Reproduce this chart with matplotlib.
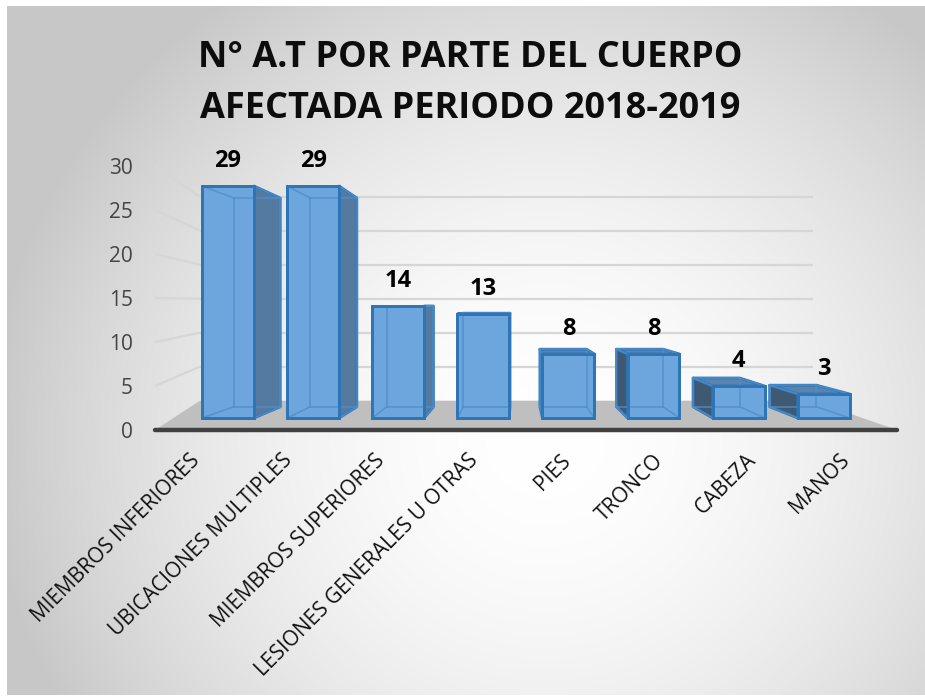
import numpy as np
import matplotlib
matplotlib.use("Agg")
import matplotlib.pyplot as plt
from matplotlib.patches import Polygon

# ---------------- data ----------------
categories = ["MIEMBROS INFERIORES", "UBICACIONES MULTIPLES", "MIEMBROS SUPERIORES",
              "LESIONES GENERALES U OTRAS", "PIES", "TRONCO", "CABEZA", "MANOS"]
values = [29, 29, 14, 13, 8, 8, 4, 3]
yticks = [0, 5, 10, 15, 20, 25, 30]
title_lines = ["N° A.T POR PARTE DEL CUERPO", "AFECTADA PERIODO 2018-2019"]

plt.rcParams['font.family'] = ['Open Sans', 'DejaVu Sans']

W, H = 925, 697
fig = plt.figure(figsize=(W / 100, H / 100), dpi=100)
fig.patch.set_facecolor('white')

# ---------------- background radial gradient ----------------
bg = fig.add_axes([0, 0, 1, 1])
bg.set_xlim(0, W)
bg.set_ylim(H, 0)
bg.axis('off')
gx0, gx1, gy0, gy1 = 7, W, 6, 695
yy, xx = np.mgrid[gy0:gy1, gx0:gx1]
r = np.hypot((xx - 545) / 560.0, (yy - 440) / 540.0)
g = (255 - 56 * np.clip(r, 0, 1) ** 1.8) / 255.0
bg.imshow(np.dstack([g, g, g]), extent=(gx0, gx1, gy1, gy0), aspect='auto',
          interpolation='bilinear')

# ---------------- main (pseudo 3-D) axes ----------------
ax = fig.add_axes([0, 0, 1, 1])
ax.patch.set_alpha(0)
ax.axis('off')
PX0, PPX = 228.0, 85.1   # pixel x of category 0, pixels per category
PY0, PPY = 418.0, 8.0    # pixel y of value 0 (bar front plane), pixels per unit
ax.set_xlim(-PX0 / PPX, (W - PX0) / PPX)
ax.set_ylim(-(H - PY0) / PPY, PY0 / PPY)

# perspective helpers
VPX, VPY = 3.396, 14.0   # vanishing point for the bars (data coords)
S_BACK = 0.90            # scale of the bar back faces


def proj(x, y, s):
    return (VPX + (x - VPX) * s, VPY + (y - VPY) * s)


# chart box (floor / walls)
BF_X = (-0.858, 7.861)   # front edge x-range
BB_X = (-0.330, 6.874)   # back wall x-range


def front_y(v):
    return -1.5 + 1.1 * v


def back_y(v):
    return 2.1625 + 0.85 * v


grid_c = '#D6D6D6'
for t in yticks[1:]:
    # left side wall
    ax.plot([BF_X[0], BB_X[0]], [front_y(t), back_y(t)], color=grid_c, lw=1.6,
            zorder=1, solid_capstyle='butt')
    # back wall
    ax.plot([BB_X[0], BB_X[1]], [back_y(t), back_y(t)], color=grid_c, lw=1.6,
            zorder=1, solid_capstyle='butt')

floor = Polygon([(BF_X[0], front_y(0)), (BF_X[1], front_y(0)),
                 (BB_X[1], back_y(0)), (BB_X[0], back_y(0))],
                closed=True, facecolor='#BFBFBF', edgecolor='none', zorder=2)
ax.add_patch(floor)
ax.plot([BF_X[0], BF_X[1]], [front_y(0), front_y(0)], color='#404040', lw=3.2,
        zorder=2.5, solid_capstyle='round')

# y tick labels (front plane)
for t in yticks:
    ax.annotate(str(t), xy=(BF_X[0], front_y(t)), xytext=(-22 * 0.72, -8.0 * 0.72),
                textcoords='offset points', ha='right', va='baseline',
                fontsize=15, color='#444444')

# ---------------- bars ----------------
x = np.arange(len(categories))
bw = 0.61
front_c = '#6DA6DC'
side_r_c = '#557A9F'
side_l_c = '#3F5973'
top_c = '#5A84AE'
edge_c = '#2E75B6'
inner_c = '#4F8FCB'

for i, v in zip(x, values):
    l, rr = i - bw / 2, i + bw / 2
    F = {'bl': (l, 0), 'br': (rr, 0), 'tl': (l, v), 'tr': (rr, v)}
    B = {k: proj(p[0], p[1], S_BACK) for k, p in F.items()}
    if i < VPX:
        side = [F['br'], B['br'], B['tr'], F['tr']]
        sc = side_r_c
    else:
        side = [F['bl'], B['bl'], B['tl'], F['tl']]
        sc = side_l_c
    ax.add_patch(Polygon(side, closed=True, facecolor=sc, edgecolor=edge_c,
                         lw=2.0, zorder=3, joinstyle='round'))
    if v < VPY:
        top = [F['tl'], F['tr'], B['tr'], B['tl']]
        ax.add_patch(Polygon(top, closed=True, facecolor=top_c, edgecolor=edge_c,
                             lw=2.0, zorder=3, joinstyle='round'))
    # hidden (back) edges seen through the translucent front
    for a, b in [('bl', 'br'), ('tl', 'tr'), ('bl', 'tl'), ('br', 'tr')]:
        ax.plot([B[a][0], B[b][0]], [B[a][1], B[b][1]], color=inner_c, lw=1.2,
                alpha=0.8, zorder=5)
    for k in ['bl', 'br', 'tl', 'tr']:
        ax.plot([F[k][0], B[k][0]], [F[k][1], B[k][1]], color=inner_c, lw=1.2,
                alpha=0.8, zorder=5)

ax.bar(x, values, width=bw, color=front_c, edgecolor=edge_c, linewidth=2.0,
       zorder=4)
# redraw front outlines on top of inner lines
ax.bar(x, values, width=bw, facecolor='none', edgecolor=edge_c, linewidth=2.0,
       zorder=6)

# data labels
for i, v in zip(x, values):
    ax.annotate(str(v), xy=(i, v), xytext=(0, 19 * 0.72), textcoords='offset points',
                ha='center', va='baseline', fontsize=17, fontweight='bold',
                color='#000000', zorder=7)

# category labels (on the front edge, 45 degrees)
for i, name in zip(x, categories):
    xl = 3.48 + (i - 3.48) * 1.09 + 0.03
    ax.text(xl, -4.0, name, rotation=45, ha='right', va='top',
            fontsize=15, color='#111111')

# title
fig.text(470 / W, 1 - 66.7 / H, title_lines[0], ha='center', va='baseline',
         fontsize=26, fontweight='bold', color='#0D0D0D')
fig.text(470 / W, 1 - 118 / H, title_lines[1], ha='center', va='baseline',
         fontsize=26, fontweight='bold', color='#0D0D0D')

fig.savefig('out.png', dpi=100, facecolor=fig.get_facecolor())
